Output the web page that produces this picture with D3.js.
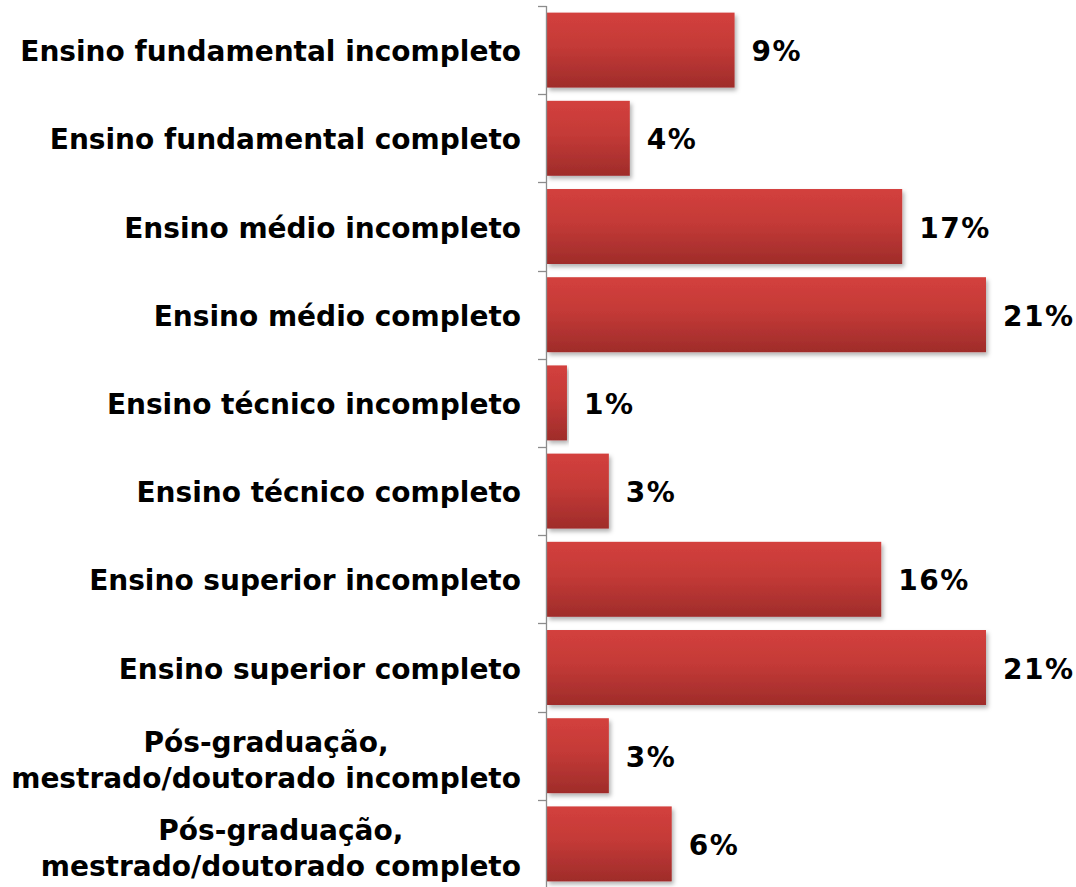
<!DOCTYPE html>
<html><head><meta charset="utf-8">
<script src="https://cdn.jsdelivr.net/npm/d3@7"></script>
<style>html,body{margin:0;padding:0;background:#fff;}svg{display:block;}</style>
</head><body>
<script>
const categories = [
  ["Ensino fundamental incompleto"],
  ["Ensino fundamental completo"],
  ["Ensino médio incompleto"],
  ["Ensino médio completo"],
  ["Ensino técnico incompleto"],
  ["Ensino técnico completo"],
  ["Ensino superior incompleto"],
  ["Ensino superior completo"],
  ["Pós-graduação,", "mestrado/doutorado incompleto"],
  ["Pós-graduação,", "mestrado/doutorado completo"]
];
const values = [9, 4, 17, 21, 1, 3, 16, 21, 3, 6];
const valueLabels = ["9%", "4%", "17%", "21%", "1%", "3%", "16%", "21%", "3%", "6%"];

const W = 1076, H = 887;
const svg = d3.select("body").append("svg").attr("width", W).attr("height", H);
const defs = svg.append("defs");
const grad = defs.append("linearGradient").attr("id", "barGrad")
  .attr("x1", 0).attr("y1", 0).attr("x2", 0).attr("y2", 1);
grad.append("stop").attr("offset", "0%").attr("stop-color", "#d3403d");
grad.append("stop").attr("offset", "45%").attr("stop-color", "#c43a37");
grad.append("stop").attr("offset", "100%").attr("stop-color", "#9f2c2a");
const f = defs.append("filter").attr("id", "shadow").attr("x", "-5%").attr("y", "-10%").attr("width", "115%").attr("height", "130%");
f.append("feDropShadow").attr("dx", 2).attr("dy", 3).attr("stdDeviation", 2)
  .attr("flood-color", "#000").attr("flood-opacity", 0.3);

const x0 = 546;
const x = d3.scaleLinear().domain([0, 21]).range([x0, 986]);
const idx = d3.range(categories.length);
const y = d3.scaleBand().domain(idx).range([6, 888]).paddingInner(0.15).paddingOuter(0.075);
const step = y.step();

// bars
svg.append("g").selectAll("rect").data(values).join("rect")
  .attr("x", x(0) + 1)
  .attr("y", (d, i) => y(i))
  .attr("width", d => x(d) - x(0) - 1)
  .attr("height", y.bandwidth())
  .attr("fill", "url(#barGrad)")
  .attr("filter", "url(#shadow)");

// axis line and boundary ticks
const ax = svg.append("g").attr("stroke", "#8c8c8c").attr("stroke-width", 1.3);
ax.append("line").attr("x1", x0 + 0.5).attr("x2", x0 + 0.5).attr("y1", 6).attr("y2", H);
d3.range(categories.length + 1).forEach(k => {
  const yy = Math.round(6 + k * step) + 0.5;
  ax.append("line").attr("x1", x0 - 8).attr("x2", x0 + 0.5).attr("y1", yy).attr("y2", yy);
});

const font = "'DejaVu Sans', Verdana, sans-serif";
const fs = 28;
// category labels
const labelRight = 521;
const lineH = 36;
categories.forEach((lines, i) => {
  const cy = y(i) + y.bandwidth() / 2 + 1;
  const t = svg.append("text")
    .attr("font-family", font).attr("font-weight", "bold").attr("font-size", fs)
    .attr("fill", "#000");
  const n = lines.length;
  lines.forEach((ln, j) => {
    t.append("tspan").attr("x", 0)
      .attr("y", cy + (j - (n - 1) / 2) * lineH + (n > 1 ? 3 : 0))
      .attr("dy", "0.36em").text(ln);
  });
  if (n === 1) {
    t.attr("text-anchor", "end");
    t.selectAll("tspan").attr("x", labelRight);
  } else {
    let maxW = 0;
    t.selectAll("tspan").each(function () { maxW = Math.max(maxW, this.getComputedTextLength()); });
    t.attr("text-anchor", "middle");
    t.selectAll("tspan").attr("x", labelRight - maxW / 2);
  }
});

// value labels
svg.append("g").selectAll("text").data(values).join("text")
  .attr("x", d => x(d) + 17)
  .attr("y", (d, i) => y(i) + y.bandwidth() / 2 + 1)
  .attr("dy", "0.36em")
  .attr("font-family", font).attr("font-weight", "bold").attr("font-size", fs)
  .attr("letter-spacing", 1.5)
  .attr("fill", "#000")
  .text((d, i) => valueLabels[i]);
</script>
</body></html>
